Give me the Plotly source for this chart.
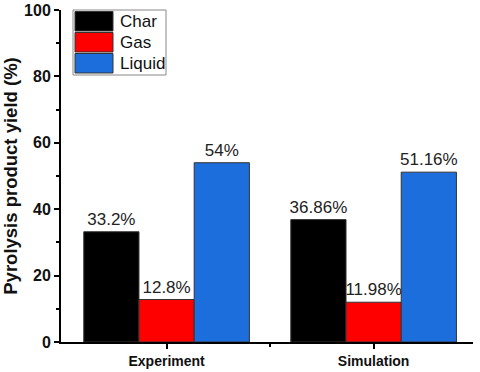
import plotly.graph_objects as go

categories = ["Experiment", "Simulation"]
series_names = ["Char", "Gas", "Liquid"]
char_vals = [33.2, 36.86]
gas_vals = [12.8, 11.98]
liquid_vals = [54, 51.16]
value_labels = [["33.2%", "36.86%"], ["12.8%", "11.98%"], ["54%", "51.16%"]]
colors = ["#000000", "#FF0000", "#1C6EDC"]

FONT = "Arial, Liberation Sans, sans-serif"
W, H = 480, 372
ML, MR, MT, MB = 61, 7, 10, 30

fig = go.Figure()
xs = list(range(len(categories)))
for name, vals, labels, col in zip(series_names, [char_vals, gas_vals, liquid_vals], value_labels, colors):
    fig.add_trace(go.Bar(
        x=xs, y=vals, name=name, marker=dict(color=col, line=dict(color="#333333", width=1)),
        text=labels, textposition="outside", constraintext="none", cliponaxis=False,
        textfont=dict(family=FONT, size=17, color="#222222"), showlegend=False,
    ))

# custom legend (big swatches like the original)
pw, ph = W - ML - MR, H - MT - MB
def px_x(v):
    return (v - ML) / pw
def px_y(v):
    return 1 - (v - MT) / ph

fig.add_shape(type="rect", xref="paper", yref="paper", x0=px_x(73), x1=px_x(166),
              y0=px_y(75), y1=px_y(10), line=dict(color="#888888", width=1), fillcolor="white")
row_top = 11.5
row_h = 21
for i, (name, col) in enumerate(zip(series_names, colors)):
    y0 = row_top + i * row_h
    fig.add_shape(type="rect", xref="paper", yref="paper", x0=px_x(75), x1=px_x(113),
                  y0=px_y(y0 + row_h - 1.5), y1=px_y(y0), fillcolor=col,
                  line=dict(color="#333333", width=1))
    fig.add_annotation(xref="paper", yref="paper", x=px_x(118), y=px_y(y0 + (row_h - 1.5) / 2),
                       text=name, showarrow=False, xanchor="left", yanchor="middle",
                       font=dict(family=FONT, size=17, color="#111111"))

fig.update_layout(
    width=W, height=H, barmode="group", bargap=0.2, bargroupgap=0,
    plot_bgcolor="white", paper_bgcolor="white",
    margin=dict(l=ML, r=MR, t=MT, b=MB),
    font=dict(family=FONT, color="#111111"),
)
fig.update_xaxes(
    range=[-0.51, 1.48], tickvals=xs, ticktext=categories, automargin=False,
    showline=True, linecolor="black", linewidth=2, ticks="outside", ticklen=5, tickwidth=1.5,
    tickcolor="black", showgrid=False, zeroline=False,
    tickfont=dict(family=FONT, size=14, color="#111111", weight="bold"),
    minor=dict(tickvals=[0.5], ticks="outside", ticklen=3, tickcolor="black", tickwidth=1.5),
)
fig.update_yaxes(
    range=[0, 100], tickvals=[0, 20, 40, 60, 80, 100], automargin=False,
    showline=True, linecolor="black", linewidth=2, ticks="outside", ticklen=5, tickwidth=1.5,
    tickcolor="black", showgrid=False, zeroline=False,
    tickfont=dict(family=FONT, size=16, color="#111111", weight="bold"),
    minor=dict(dtick=10, ticks="outside", ticklen=3, tickcolor="black", tickwidth=1.5, showgrid=False),
    title=dict(text="Pyrolysis product yield (%)", standoff=4,
               font=dict(family=FONT, size=18.5, color="#111111", weight="bold")),
)

# page body has a default margin; drop it so the figure sits at the window corner
fig.write_html("out.html", config={"displayModeBar": False},
               post_script="document.body.style.margin='0';")
